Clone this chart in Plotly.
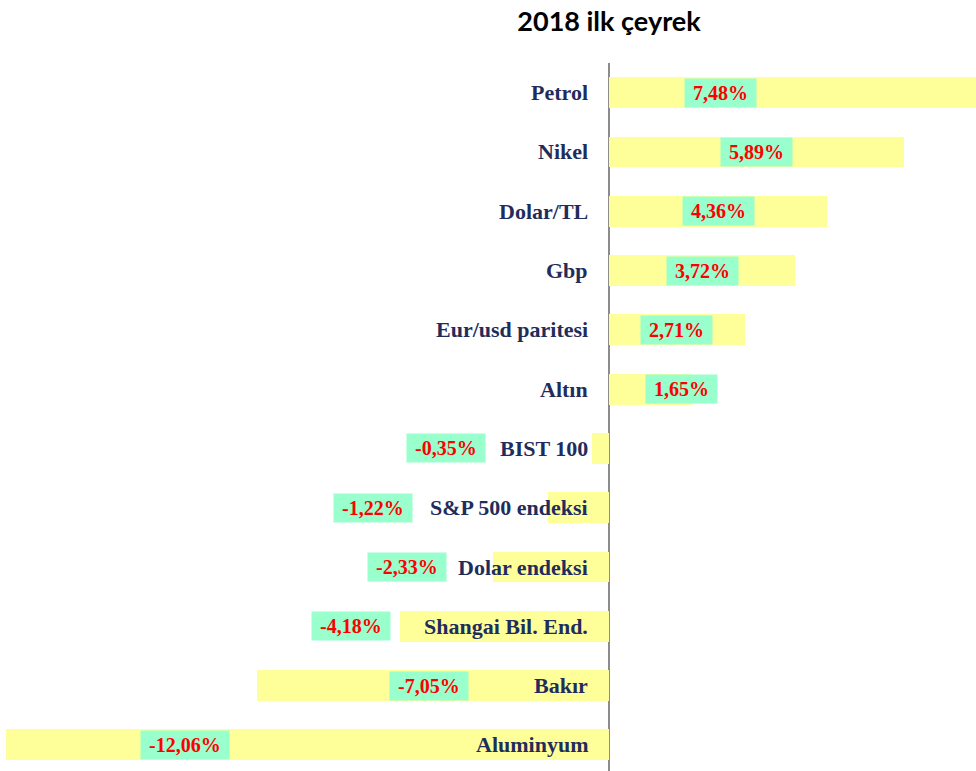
import plotly.graph_objects as go

categories = ["Petrol", "Nikel", "Dolar/TL", "Gbp", "Eur/usd paritesi", "Altın",
              "BIST 100", "S&P 500 endeksi", "Dolar endeksi", "Shangai Bil. End.",
              "Bakır", "Aluminyum"]
values = [7.48, 5.89, 4.36, 3.72, 2.71, 1.65, -0.35, -1.22, -2.33, -4.18, -7.05, -12.06]
value_labels = ["7,48%", "5,89%", "4,36%", "3,72%", "2,71%", "1,65%",
                "-0,35%", "-1,22%", "-2,33%", "-4,18%", "-7,05%", "-12,06%"]
# where each value label sits along the value axis
label_pos = [2.22, 2.94, 2.18, 1.86, 1.34, 1.44, -3.26, -4.72, -4.04, -5.16, -3.60, -8.48]

YELLOW = "#FFFF99"
GREEN = "#99FFCC"
RED = "#FF0000"
NAVY = "#1F2D5C"
SERIF = "Liberation Serif"

fig = go.Figure()
fig.add_trace(go.Bar(
    y=categories, x=values, orientation="h",
    marker=dict(color=YELLOW, line=dict(width=0)),
    width=0.52, hoverinfo="skip", showlegend=False,
))

annotations = []
for cat in categories:
    annotations.append(dict(
        x=0, y=cat, xref="x", yref="y", text=f"<b>{cat}</b>",
        showarrow=False, xanchor="right", yanchor="middle", xshift=-19,
        font=dict(family=SERIF, size=22, color=NAVY),
    ))
for cat, lab, pos in zip(categories, value_labels, label_pos):
    annotations.append(dict(
        x=pos, y=cat, xref="x", yref="y", text=f"<b>\u00a0{lab}\u00a0</b>",
        showarrow=False, xanchor="center", yanchor="middle",
        bgcolor=GREEN, borderpad=3,
        font=dict(family=SERIF, size=20, color=RED),
    ))

fig.update_layout(
    width=976, height=771,
    margin=dict(l=0, r=0, t=63, b=0, pad=0),
    paper_bgcolor="white", plot_bgcolor="white",
    title=dict(text="<b>2018 ilk çeyrek</b>", x=609 / 976, xanchor="center",
               y=1 - 22 / 771, yanchor="middle", yref="container",
               font=dict(family="Lato", size=27, color="#000000")),
    xaxis=dict(range=[-12.18, 7.34], showgrid=False, showticklabels=False,
               zeroline=True, zerolinecolor="#8C8C8C", zerolinewidth=2,
               showline=False, ticks=""),
    yaxis=dict(categoryorder="array", categoryarray=categories,
               range=[11.44, -0.5], showgrid=False, showticklabels=False,
               zeroline=False, showline=False, ticks=""),
    annotations=annotations,
    bargap=0,
)

fig.write_html("out.html", config={"displayModeBar": False},
               post_script="document.body.style.margin='0';")
